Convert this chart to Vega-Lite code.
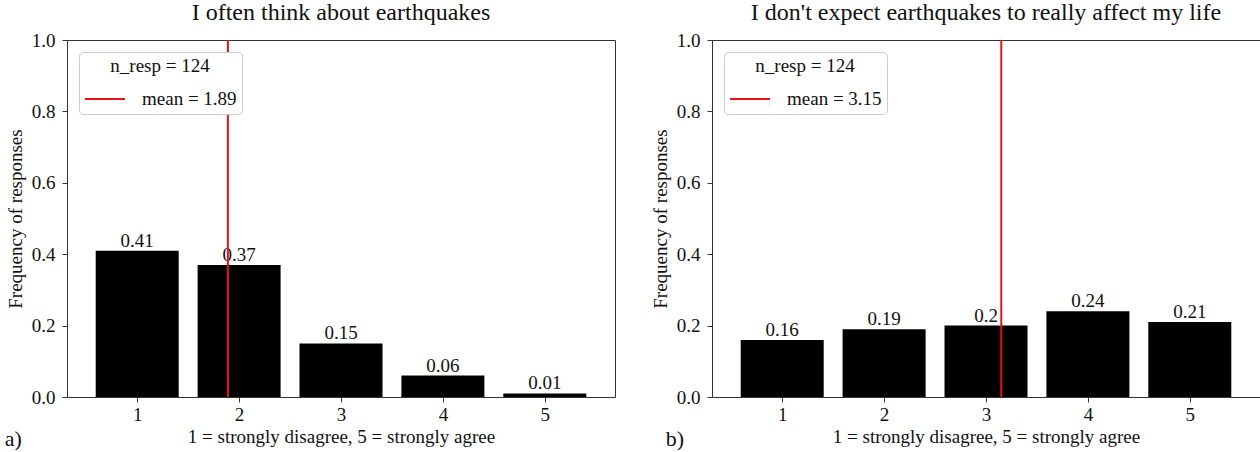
{
  "$schema": "https://vega.github.io/schema/vega-lite/v6.json",
  "padding": {"left": 4, "top": 0, "right": 0, "bottom": 0},
  "background": "white",
  "config": {
    "font": "Liberation Serif",
    "view": {"stroke": "#333333", "strokeWidth": 1},
    "axis": {
      "labelFont": "Liberation Serif", "titleFont": "Liberation Serif",
      "labelFontSize": 19, "titleFontSize": 19, "titleFontWeight": "normal",
      "labelColor": "#111111", "titleColor": "#111111",
      "tickColor": "#333333", "domainColor": "#333333",
      "grid": false, "tickSize": 5
    },
    "axisY": {"labelPadding": 7, "titlePadding": 6},
    "axisX": {"labelPadding": 3, "titlePadding": 3},
    "title": {"font": "Liberation Serif", "fontSize": 24, "fontWeight": "normal", "color": "#111111", "offset": 6},
    "legend": {
      "orient": "top-left", "offset": 12,
      "fillColor": "white", "strokeColor": "#cccccc", "cornerRadius": 4, "padding": 5,
      "titleFont": "Liberation Serif", "titleFontSize": 19, "titleFontWeight": "normal", "titleColor": "#111111",
      "titleAnchor": "middle", "titleAlign": "center", "titlePadding": 2,
      "labelFont": "Liberation Serif", "labelFontSize": 19, "labelColor": "#111111", "labelOffset": 16,
      "symbolType": "stroke", "symbolSize": 1600, "symbolStrokeWidth": 2
    },
    "concat": {"spacing": 34}
  },
  "datasets": {
    "a": [
      {"rating": 1, "freq": 0.41},
      {"rating": 2, "freq": 0.37},
      {"rating": 3, "freq": 0.15},
      {"rating": 4, "freq": 0.06},
      {"rating": 5, "freq": 0.01}
    ],
    "b": [
      {"rating": 1, "freq": 0.16},
      {"rating": 2, "freq": 0.19},
      {"rating": 3, "freq": 0.2},
      {"rating": 4, "freq": 0.24},
      {"rating": 5, "freq": 0.21}
    ],
    "am": [{"mean": 1.89, "label": "mean = 1.89"}],
    "bm": [{"mean": 3.15, "label": "mean = 3.15"}]
  },
  "hconcat": [
    {
      "title": {"text": "a)", "orient": "bottom", "anchor": "start", "fontSize": 22, "offset": -18, "dx": -1},
      "resolve": {"scale": {"color": "independent"}, "legend": {"color": "independent"}},
      "vconcat": [
        {
          "title": "I often think about earthquakes",
          "width": 548,
          "height": 357,
          "layer": [
            {
              "data": {"name": "a"},
              "mark": {"type": "bar", "width": 83, "color": "black"},
              "encoding": {
                "x": {"field": "rating", "type": "quantitative", "scale": {"domain": [0.36, 5.64], "nice": false, "zero": false},
                      "axis": {"values": [1, 2, 3, 4, 5], "format": "d", "title": "1 = strongly disagree, 5 = strongly agree"}},
                "y": {"field": "freq", "type": "quantitative", "scale": {"domain": [0, 1], "nice": false},
                      "axis": {"values": [0, 0.2, 0.4, 0.6, 0.8, 1.0], "format": ".1f", "title": "Frequency of responses"}}
              }
            },
            {
              "data": {"name": "a"},
              "mark": {"type": "text", "baseline": "bottom", "dy": 0, "fontSize": 19, "color": "#111111"},
              "encoding": {
                "x": {"field": "rating", "type": "quantitative"},
                "y": {"field": "freq", "type": "quantitative"},
                "text": {"field": "freq", "type": "nominal"}
              }
            },
            {
              "data": {"name": "am"},
              "mark": {"type": "rule", "strokeWidth": 2},
              "encoding": {
                "x": {"field": "mean", "type": "quantitative"},
                "color": {"field": "label", "type": "nominal", "scale": {"range": ["#e8121a"]}, "legend": {"title": "n_resp = 124"}}
              }
            }
          ]
        }
      ]
    },
    {
      "title": {"text": "b)", "orient": "bottom", "anchor": "start", "fontSize": 22, "offset": -18, "dx": 15},
      "resolve": {"scale": {"color": "independent"}, "legend": {"color": "independent"}},
      "vconcat": [
        {
          "title": "I don't expect earthquakes to really affect my life",
          "width": 548,
          "height": 357,
          "layer": [
            {
              "data": {"name": "b"},
              "mark": {"type": "bar", "width": 83, "color": "black"},
              "encoding": {
                "x": {"field": "rating", "type": "quantitative", "scale": {"domain": [0.36, 5.64], "nice": false, "zero": false},
                      "axis": {"values": [1, 2, 3, 4, 5], "format": "d", "title": "1 = strongly disagree, 5 = strongly agree"}},
                "y": {"field": "freq", "type": "quantitative", "scale": {"domain": [0, 1], "nice": false},
                      "axis": {"values": [0, 0.2, 0.4, 0.6, 0.8, 1.0], "format": ".1f", "title": "Frequency of responses"}}
              }
            },
            {
              "data": {"name": "b"},
              "mark": {"type": "text", "baseline": "bottom", "dy": 0, "fontSize": 19, "color": "#111111"},
              "encoding": {
                "x": {"field": "rating", "type": "quantitative"},
                "y": {"field": "freq", "type": "quantitative"},
                "text": {"field": "freq", "type": "nominal"}
              }
            },
            {
              "data": {"name": "bm"},
              "mark": {"type": "rule", "strokeWidth": 2},
              "encoding": {
                "x": {"field": "mean", "type": "quantitative"},
                "color": {"field": "label", "type": "nominal", "scale": {"range": ["#e8121a"]}, "legend": {"title": "n_resp = 124"}}
              }
            }
          ]
        }
      ]
    }
  ],
  "resolve": {"scale": {"color": "independent"}, "legend": {"color": "independent"}}
}
